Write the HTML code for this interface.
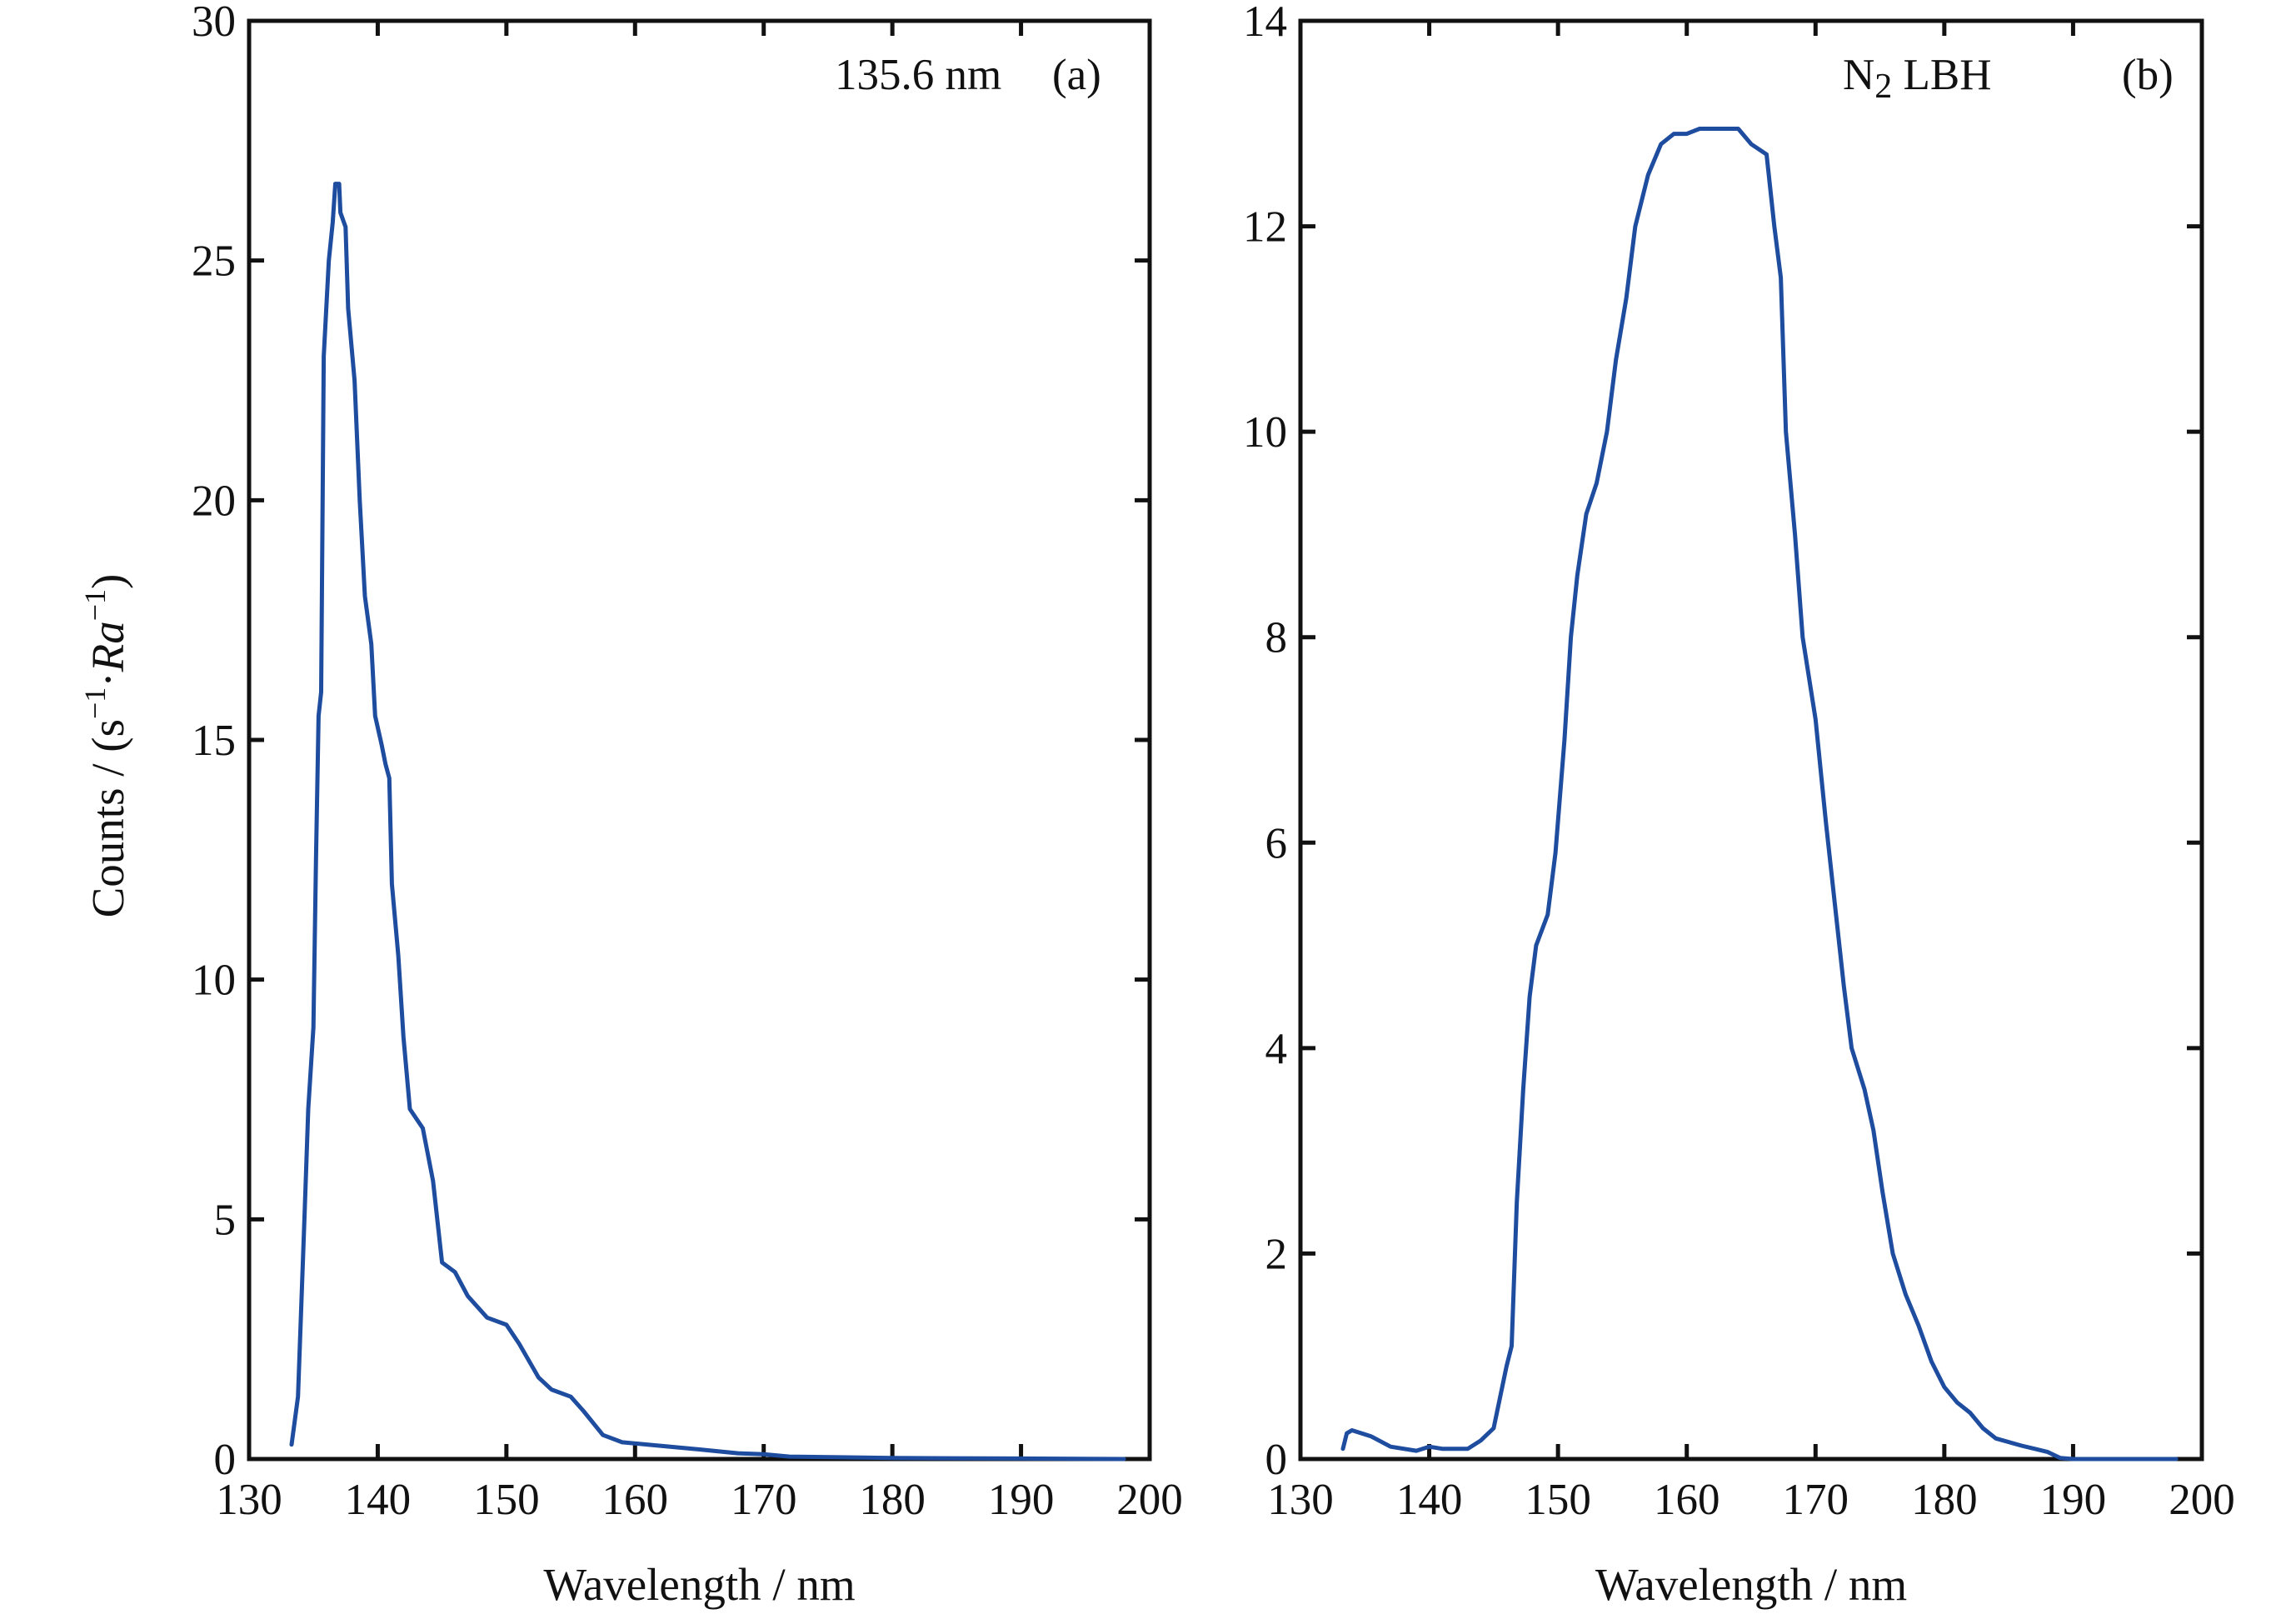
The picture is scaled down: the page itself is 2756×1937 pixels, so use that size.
<!DOCTYPE html>
<html><head><meta charset="utf-8"><style>
html,body{margin:0;padding:0;background:#fff;}
svg{display:block;font-family:"Liberation Serif",serif;}
</style></head><body>
<svg id="chart" width="2756" height="1937" viewBox="0 0 2756 1937" xmlns="http://www.w3.org/2000/svg"></svg>
<script>
const xTicks = [130,140,150,160,170,180,190,200];
const yTicksA = [0,5,10,15,20,25,30];
const yTicksB = [0,2,4,6,8,10,12,14];
const waveA = [133.3,133.8,134.3,134.6,135.0,135.2,135.4,135.6,135.8,136.2,136.5,136.7,137.0,137.1,137.5,137.7,138.2,138.6,139.0,139.5,139.8,140.3,140.6,140.9,141.1,141.6,142.0,142.5,143.5,144.3,145.0,146.0,147.0,148.5,150.0,151.0,152.5,153.5,155.0,156.0,157.5,159.0,161.0,165.0,168.0,170.0,172.0,180.0,190.0,198.0];
const countsA = [0.3,1.3,5,7.3,9,12.5,15.5,16,23,25,25.8,26.6,26.6,26,25.7,24,22.5,20,18,17,15.5,14.9,14.5,14.2,12,10.5,8.8,7.3,6.9,5.8,4.1,3.9,3.4,2.95,2.8,2.4,1.7,1.45,1.3,1.0,0.5,0.35,0.3,0.2,0.12,0.1,0.05,0.02,0.01,0];
const waveB = [133.3,133.6,134.0,135.5,137,139,140,141,143,144,145,145.5,146,146.4,146.8,147.3,147.8,148.3,149.2,149.8,150.5,151.0,151.5,152.2,153,153.8,154.5,155.3,156,157,158,159,160,161,162,163,164,165,166.2,166.8,167.3,167.7,168.4,169,170,170.8,171.5,172.2,172.8,173.8,174.5,175.2,176,177,178,179,180,181,182,183,184,186,187,188,189,190,198];
const countsB = [0.1,0.25,0.28,0.22,0.12,0.08,0.12,0.1,0.1,0.18,0.3,0.6,0.9,1.1,2.5,3.6,4.5,5.0,5.3,5.9,7,8.0,8.6,9.2,9.5,10,10.7,11.3,12,12.5,12.8,12.9,12.9,12.95,12.95,12.95,12.95,12.8,12.7,12,11.5,10,9,8,7.2,6.2,5.4,4.6,4.0,3.6,3.2,2.6,2.0,1.6,1.3,0.95,0.7,0.55,0.45,0.3,0.2,0.13,0.1,0.07,0.01,0,0];

const NS="http://www.w3.org/2000/svg";
const svg=document.getElementById('chart');
function mk(tag,attrs,parent){const e=document.createElementNS(NS,tag);for(const k in attrs)e.setAttribute(k,attrs[k]);(parent||svg).appendChild(e);return e;}

function panel(id,L,R,T,B,ymax,yTicks,xs,ys,label,tag,tagX,labelX){
  const g=mk('g',{});
  
  
  const sx=v=>L+(v-130)/(70)*(R-L);
  const sy=v=>B-v/ymax*(B-T);
  xTicks.forEach(t=>{
    const x=sx(t);
    const tk=mk('path',{d:`M${x},${B}V${B-18}M${x},${T}V${T+18}`,stroke:'#111','stroke-width':5},g);
    
    
    const tx=mk('text',{x:x,y:1817,'font-size':53,'text-anchor':'middle',fill:'#111'},g);
    tx.textContent=t;
    
    
  });
  yTicks.forEach(t=>{
    const y=sy(t);
    const tk=mk('path',{d:`M${L},${y}H${L+18}M${R},${y}H${R-18}`,stroke:'#111','stroke-width':5},g);
    
    
    const tx=mk('text',{x:L-16,y:y+18,'font-size':53,'text-anchor':'end',fill:'#111'},g);
    tx.textContent=t;
    
    
  });
  const fr=mk('rect',{x:L,y:T,width:R-L,height:B-T,fill:'none',stroke:'#111','stroke-width':5},g);
  
  
  const d=xs.map((v,i)=>(i?'L':'M')+sx(v).toFixed(1)+','+sy(ys[i]).toFixed(1)).join('');
  const ln=mk('path',{d:d,fill:'none',stroke:'#1e4c9e','stroke-width':5,'stroke-linejoin':'round','stroke-linecap':'round'},g);
  
  
  const xt=mk('text',{x:(L+R)/2,y:1920,'font-size':55,'text-anchor':'middle',fill:'#111'},g);
  xt.textContent='Wavelength / nm';
  
  
  const lb=mk('text',{x:labelX,y:107,'font-size':53,fill:'#111'},g);
  lb.innerHTML=label;
  
  
  const tg=mk('text',{x:tagX,y:107,'font-size':53,fill:'#111'},g);
  tg.textContent=tag;
  
  
}
panel('a',299,1380,25,1751,30,yTicksA,waveA,countsA,'135.6 nm','(a)',1263,1002);
panel('b',1561,2643,25,1751,14,yTicksB,waveB,countsB,'N<tspan font-size="42" dy="10">2</tspan><tspan dy="-10"> LBH</tspan>','(b)',2547,2212);

const yl=mk('text',{x:0,y:0,'font-size':55,'text-anchor':'middle',fill:'#111',transform:'translate(148,895) rotate(-90)'});
yl.innerHTML='Counts / (s<tspan font-size="36" dy="-22">−1</tspan><tspan dy="22">·</tspan><tspan font-style="italic">Ra</tspan><tspan font-size="36" dy="-22">−1</tspan><tspan dy="22">)</tspan>';


</script>
</body></html>
